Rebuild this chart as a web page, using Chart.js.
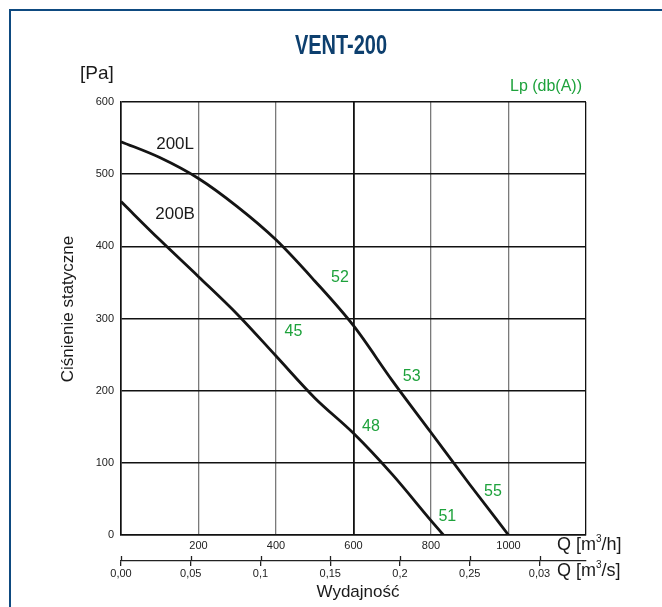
<!DOCTYPE html>
<html><head><meta charset="utf-8">
<script src="https://cdn.jsdelivr.net/npm/chart.js@4"></script>
<style>
html,body{margin:0;padding:0;background:#fff;overflow:hidden}
#wrap{position:relative;width:662px;height:607px}
#frame{position:absolute;left:9px;top:9px;width:800px;height:800px;border:2px solid #0e4a80;box-sizing:border-box}
canvas{position:absolute;left:0;top:0}
</style></head>
<body><div id="wrap"><div id="frame"></div><canvas id="c" width="662" height="607"></canvas></div>
<script>
const title = 'VENT-200';
const seriesNames = ['200L', '200B'];
const q200L = [0, 100, 200, 300, 400, 500, 600, 700, 800, 900, 1000];
const p200L = [545, 523, 494, 455, 409, 352, 290, 214, 142, 70, 0];
const q200B = [0, 100, 200, 300, 400, 500, 600, 700, 800, 832];
const p200B = [462, 409, 358, 306, 248, 190, 141, 84, 20, 0];
const yTicks = [0, 100, 200, 300, 400, 500, 600];
const xTicks = [0, 200, 400, 600, 800, 1000, 1200];
const x2Ticks = [0, 0.05, 0.1, 0.15, 0.2, 0.25, 0.3];
const x2Labels = ['0,00', '0,05', '0,1', '0,15', '0,2', '0,25', '0,03'];
// noise levels Lp dB(A) : [Q, Pa] anchor of label
const lpLabels = ['52', '45', '53', '48', '55', '51'];
const lpQ = [565, 445, 750, 645, 960, 842];
const lpP = [357, 282, 219, 150, 60, 26];
const nameQ = [137, 137];
const nameP = [542, 445];

const green = '#1ea23c';
const font = '"Liberation Sans", Arial, sans-serif';

const textPlugin = {
  id: 'texts',
  afterDraw(chart) {
    const ctx = chart.ctx, x = chart.scales.x, y = chart.scales.y, x2 = chart.scales.x2;
    const ca = chart.chartArea;
    ctx.save();
    // title (condensed)
    ctx.save();
    ctx.fillStyle = '#0d3f6e';
    ctx.font = 'bold 27px "Liberation Sans", sans-serif';
    ctx.textAlign = 'center'; ctx.textBaseline = 'middle';
    ctx.translate(341, 47);
    ctx.scale(0.74, 1);
    ctx.fillText(title, 0, 0);
    ctx.restore();
    // units
    ctx.textBaseline = 'middle';
    ctx.fillStyle = '#1a1a1a';
    ctx.font = '19px ' + font;
    ctx.textAlign = 'left';
    ctx.fillText('[Pa]', 80, 74);
    ctx.fillStyle = green;
    ctx.font = '16px ' + font;
    ctx.textAlign = 'right';
    ctx.fillText('Lp (db(A))', ca.right - 4, 87);
    // series names
    ctx.fillStyle = '#1a1a1a';
    ctx.font = '17px ' + font;
    ctx.textAlign = 'center';
    seriesNames.forEach((n, i) => ctx.fillText(n, x.getPixelForValue(nameQ[i]) + 1, y.getPixelForValue(nameP[i])));
    // noise labels
    ctx.fillStyle = green;
    ctx.font = '16px ' + font;
    lpLabels.forEach((t, i) => ctx.fillText(t, x.getPixelForValue(lpQ[i]), y.getPixelForValue(lpP[i])));
    // axis unit labels
    ctx.fillStyle = '#1a1a1a';
    ctx.textAlign = 'left';
    function qLabel(unit, yy) {
      ctx.font = '18px ' + font;
      let xx = 557;
      const a = 'Q [m';
      ctx.fillText(a, xx, yy); xx += ctx.measureText(a).width;
      ctx.font = '10px ' + font;
      ctx.fillText('3', xx, yy - 6); xx += ctx.measureText('3').width;
      ctx.font = '18px ' + font;
      ctx.fillText(unit + ']', xx, yy);
    }
    qLabel('/h', 545);
    qLabel('/s', 571);
    // axis titles
    ctx.font = '17px ' + font;
    ctx.textAlign = 'center';
    ctx.fillText('Wydajność', 358, 592);
    ctx.translate(68, 309);
    ctx.rotate(-Math.PI / 2);
    ctx.fillText('Ciśnienie statyczne', 0, 0);
    ctx.restore();
    // upward part of secondary tick marks
    ctx.save();
    ctx.strokeStyle = '#222'; ctx.lineWidth = 1.3;
    x2.ticks.forEach((t, i) => {
      const px = Math.round(x2.getPixelForTick(i)) + 0.5;
      ctx.beginPath(); ctx.moveTo(px, x2.top - 5); ctx.lineTo(px, x2.top); ctx.stroke();
    });
    ctx.restore();
  }
};

new Chart(document.getElementById('c'), {
  type: 'line',
  data: {
    datasets: [
      { label: seriesNames[0], data: q200L.map((q, i) => ({x: q, y: p200L[i]})) },
      { label: seriesNames[1], data: q200B.map((q, i) => ({x: q, y: p200B[i]})) }
    ]
  },
  options: {
    responsive: false, animation: false, devicePixelRatio: 1,
    layout: { padding: { top: 102, right: 76, bottom: 0, left: 0 } },
    elements: {
      line: { borderColor: '#141414', borderWidth: 2.8, cubicInterpolationMode: 'monotone', fill: false },
      point: { radius: 0 }
    },
    plugins: { legend: { display: false }, tooltip: { enabled: false } },
    scales: {
      x: {
        type: 'linear', position: 'bottom', min: 0, max: 1200,
        afterBuildTicks: s => { s.ticks = xTicks.map(v => ({value: v})); },
        afterFit: s => { s.height = 26; },
        ticks: { color: '#222', font: { size: 11, family: font }, padding: 4, maxRotation: 0,
          callback: v => (v === 0 || v === 1200) ? '' : String(v) },
        grid: {
          drawTicks: false,
          color: c => (c.tick && (c.tick.value === 600 || c.tick.value === 0 || c.tick.value === 1200)) ? '#111' : '#7a7a7a',
          lineWidth: c => (c.tick && c.tick.value === 600) ? 1.8 : 1.3
        },
        border: { color: '#111', width: 1.6 }
      },
      x2: {
        type: 'linear', position: 'bottom', min: 0, max: 1200 / 3600,
        afterBuildTicks: s => { s.ticks = x2Ticks.map(v => ({value: v})); },
        afterFit: s => { s.height = 46; },
        ticks: { color: '#222', font: { size: 11, family: font }, padding: 1, maxRotation: 0,
          callback: (v, i) => x2Labels[i] },
        grid: { drawOnChartArea: false, drawTicks: true, tickLength: 5, color: '#222', lineWidth: 1.3 },
        border: { color: '#222', width: 1.3 }
      },
      y: {
        type: 'linear', min: 0, max: 600,
        afterBuildTicks: s => { s.ticks = yTicks.map(v => ({value: v})); },
        afterFit: s => { s.width = 121; },
        ticks: { color: '#222', font: { size: 11, family: font }, padding: 7 },
        grid: { drawTicks: false, color: '#111', lineWidth: 1.4 },
        border: { color: '#111', width: 1.6 }
      }
    }
  },
  plugins: [textPlugin]
});
</script>
</body></html>
